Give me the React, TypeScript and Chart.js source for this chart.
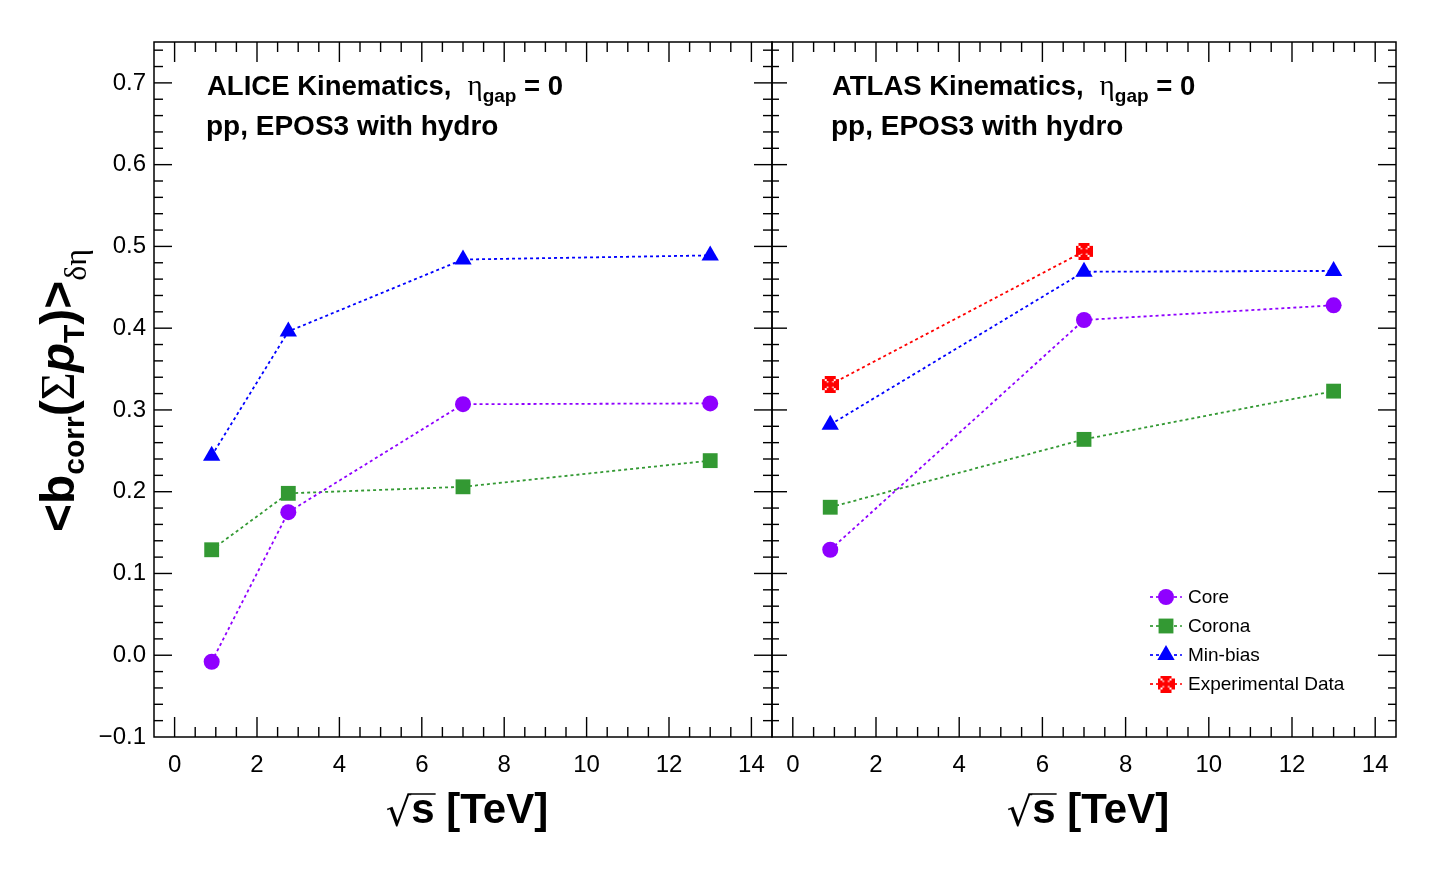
import React, { useEffect, useRef } from 'react';
import { Chart, registerables } from 'chart.js';
import { drawPoint } from 'chart.js/helpers';

Chart.register(...registerables);

// ---------------- data ----------------
const seriesNames = ['Core', 'Corona', 'Min-bias', 'Experimental Data'];

const aliceEnergies = [0.9, 2.76, 7, 13];
const aliceCore = [-0.008, 0.175, 0.307, 0.308];
const aliceCorona = [0.129, 0.198, 0.206, 0.238];
const aliceMinBias = [0.244, 0.396, 0.484, 0.489];

const atlasEnergies = [0.9, 7, 13];
const atlasCore = [0.129, 0.41, 0.428];
const atlasCorona = [0.181, 0.264, 0.323];
const atlasMinBias = [0.282, 0.469, 0.47];
const expEnergies = [0.9, 7];
const atlasExp = [0.331, 0.494];

const xTicks = [0, 2, 4, 6, 8, 10, 12, 14];
const yTicks = [-0.1, 0, 0.1, 0.2, 0.3, 0.4, 0.5, 0.6, 0.7];

const panelTitles = ['ALICE Kinematics,', 'ATLAS Kinematics,'];
const panelSubtitle = 'pp, EPOS3 with hydro';

const COLORS = ['#8f00ff', '#339933', '#0000ff', '#ff0000'];

const SANS = "'Liberation Sans', Arial, Helvetica, sans-serif";
const SERIF = "'Liberation Serif', 'Times New Roman', serif";

// ---------------- helpers ----------------
type Seg = { t: string; font: string; dy?: number; gap?: number };

function drawSegs(ctx: CanvasRenderingContext2D, segs: Seg[], x: number, y: number) {
  for (const s of segs) {
    ctx.font = s.font;
    ctx.fillText(s.t, x, y + (s.dy || 0));
    x += ctx.measureText(s.t).width + (s.gap || 0);
  }
  return x;
}

function makeCross(color: string) {
  const c = document.createElement('canvas');
  c.width = 17;
  c.height = 17;
  const g = c.getContext('2d')!;
  g.fillStyle = color;
  g.fillRect(6.5, 0, 4, 17);
  g.fillRect(0, 6.5, 17, 4);
  g.fillRect(3, 0, 11, 3);
  g.fillRect(3, 14, 11, 3);
  g.fillRect(0, 3, 3, 11);
  g.fillRect(14, 3, 3, 11);
  g.fillRect(5, 3, 7, 2);
  g.fillRect(5, 12, 7, 2);
  g.fillRect(3, 5, 2, 7);
  g.fillRect(12, 5, 2, 7);
  return c;
}

function line(ctx: CanvasRenderingContext2D, x1: number, y1: number, x2: number, y2: number) {
  ctx.beginPath();
  ctx.moveTo(x1, y1);
  ctx.lineTo(x2, y2);
  ctx.stroke();
}

const framePlugin = {
  id: 'rootFrame',
  afterDraw(chart: any, _args: any, opts: any) {
    const { ctx, chartArea: a, scales } = chart;
    const x = scales.x;
    const y = scales.y;
    ctx.save();
    ctx.strokeStyle = '#000';
    ctx.lineWidth = 1.4;
    // x ticks (major every 2, minor every 0.5)
    for (let i = -1; i <= 29; i++) {
      const v = i * 0.5;
      const px = x.getPixelForValue(v);
      if (px < a.left + 0.5 || px > a.right - 0.5) continue;
      const major = i % 4 === 0;
      const len = major ? 20 : 10;
      line(ctx, px, a.bottom, px, a.bottom - len);
      line(ctx, px, a.top, px, a.top + len);
    }
    // y ticks (major every 0.1, minor every 0.02)
    for (let i = -5; i <= 37; i++) {
      const v = i * 0.02;
      const py = y.getPixelForValue(v);
      if (py < a.top + 0.5 || py > a.bottom - 0.5) continue;
      const major = i % 5 === 0;
      const l = major ? opts.left[0] : opts.left[1];
      const r = major ? opts.right[0] : opts.right[1];
      line(ctx, a.left, py, a.left + l, py);
      line(ctx, a.right, py, a.right - r, py);
    }
    ctx.lineWidth = 1.5;
    ctx.strokeRect(a.left, a.top, a.right - a.left, a.bottom - a.top);

    // panel annotations
    ctx.fillStyle = '#000';
    ctx.textBaseline = 'alphabetic';
    ctx.textAlign = 'left';
    const tx = a.left + opts.textDx;
    drawSegs(
      ctx,
      [
        { t: opts.title, font: `bold 27.5px ${SANS}`, gap: 16 },
        { t: 'η', font: `29px ${SERIF}`, gap: 0 },
        { t: 'gap', font: `bold 19px ${SANS}`, dy: 7, gap: 0 },
        { t: ' = 0', font: `bold 27.5px ${SANS}` },
      ],
      tx,
      95
    );
    drawSegs(ctx, [{ t: panelSubtitle, font: `bold 28px ${SANS}` }], tx - 1, 135);

    // x axis title: √s [TeV]
    const cx = (a.left + a.right) / 2;
    const rootFont = `40px 'DejaVu Sans', ${SANS}`;
    const titleFont = `bold 42px ${SANS}`;
    ctx.font = rootFont;
    const rm = ctx.measureText('√');
    const rw = rm.width;
    ctx.font = titleFont;
    const sw = ctx.measureText('s').width;
    const restW = ctx.measureText(' [TeV]').width;
    const total = rw + sw + restW;
    let xx = cx - total / 2 + 4;
    const base = 823;
    ctx.font = rootFont;
    ctx.fillText('√', xx, base + 3);
    const topY = base + 3 - rm.actualBoundingBoxAscent + 1;
    ctx.lineWidth = 1.5;
    line(ctx, xx + rm.actualBoundingBoxRight - 1, topY, xx + rw + sw + 1, topY);
    xx += rw;
    ctx.font = titleFont;
    ctx.fillText('s', xx, base);
    xx += sw;
    ctx.fillText(' [TeV]', xx, base);

    // y axis title
    if (opts.yTitle) {
      ctx.save();
      ctx.translate(74, 532);
      ctx.rotate(-Math.PI / 2);
      drawSegs(
        ctx,
        [
          { t: '<b', font: `bold 48px ${SANS}` },
          { t: 'corr', font: `bold 30px ${SANS}`, dy: 10 },
          { t: '(', font: `bold 48px ${SANS}` },
          { t: 'Σ', font: `48px ${SERIF}` },
          { t: 'p', font: `italic bold 48px ${SANS}` },
          { t: 'T', font: `bold 30px ${SANS}`, dy: 10 },
          { t: ')>', font: `bold 48px ${SANS}` },
          { t: 'δη', font: `32px ${SERIF}`, dy: 12 },
        ],
        0,
        0
      );
      ctx.restore();
    }

    // legend
    if (opts.legend) {
      const ds = chart.data.datasets;
      ctx.font = `19px ${SANS}`;
      ctx.textBaseline = 'middle';
      ds.forEach((d: any, row: number) => {
        const yy = 597 + row * 29;
        const x0 = a.left + 378;
        ctx.strokeStyle = d.borderColor;
        ctx.lineWidth = 1.7;
        ctx.setLineDash([3, 3]);
        line(ctx, x0, yy, x0 + 32, yy);
        ctx.setLineDash([]);
        ctx.fillStyle = d.pointBackgroundColor;
        ctx.strokeStyle = d.pointBackgroundColor;
        drawPoint(ctx, { pointStyle: d.pointStyle, radius: d.pointRadius, rotation: 0, borderWidth: 0 } as any, x0 + 16, yy);
        ctx.fillStyle = '#000';
        ctx.fillText(d.label, x0 + 38, yy + 1);
      });
    }
    ctx.restore();
  },
};

function series(label: string, xs: number[], ys: number[], color: string, style: any, radius: number) {
  return {
    label,
    data: xs.map((x, i) => ({ x, y: ys[i] })),
    borderColor: color,
    backgroundColor: color,
    borderWidth: 1.8,
    borderDash: [3, 3],
    pointStyle: style,
    pointRadius: radius,
    pointHoverRadius: radius,
    pointBackgroundColor: color,
    pointBorderColor: color,
    pointBorderWidth: 0,
    showLine: true,
    tension: 0,
  };
}

function makeOptions(left: boolean, padL: number, padR: number, frameOpts: any) {
  return {
    animation: false,
    responsive: false,
    maintainAspectRatio: false,
    layout: { padding: { left: padL, right: padR, top: 42, bottom: 0 } },
    events: [],
    plugins: {
      legend: { display: false },
      tooltip: { enabled: false },
      rootFrame: frameOpts,
    },
    scales: {
      x: {
        type: 'linear',
        min: -0.5,
        max: 14.5,
        afterBuildTicks: (s: any) => {
          s.ticks = xTicks.map((v) => ({ value: v }));
        },
        afterFit: (s: any) => {
          s.height = 135;
        },
        grid: { display: false },
        border: { display: false },
        ticks: {
          color: '#000',
          font: { family: SANS, size: 24 },
          padding: 6,
          maxRotation: 0,
          autoSkip: false,
          callback: (v: any) => String(v),
        },
      },
      y: {
        type: 'linear',
        display: left,
        min: -0.1,
        max: 0.75,
        afterBuildTicks: (s: any) => {
          s.ticks = yTicks.map((v) => ({ value: v }));
        },
        afterFit: (s: any) => {
          s.width = left ? 154 : 0;
        },
        grid: { display: false },
        border: { display: false },
        ticks: {
          color: '#000',
          font: { family: SANS, size: 24 },
          padding: 0,
          autoSkip: false,
          callback: (v: any) => Number(v).toFixed(1).replace('-', '\u2212'),
        },
      },
    },
  };
}

export default function App() {
  const leftRef = useRef<HTMLCanvasElement>(null);
  const rightRef = useRef<HTMLCanvasElement>(null);

  useEffect(() => {
    const cross = makeCross(COLORS[3]);
    const left = new Chart(leftRef.current!, {
      type: 'line',
      data: {
        datasets: [
          series(seriesNames[0], aliceEnergies, aliceCore, COLORS[0], 'circle', 8),
          series(seriesNames[1], aliceEnergies, aliceCorona, COLORS[1], 'rect', 10.5),
          series(seriesNames[2], aliceEnergies, aliceMinBias, COLORS[2], 'triangle', 10),
        ],
      },
      options: makeOptions(true, 0, 28, {
        left: [18, 9],
        right: [18, 9],
        textDx: 53,
        title: panelTitles[0],
        yTitle: true,
        legend: false,
      }) as any,
      plugins: [framePlugin],
    });
    const right = new Chart(rightRef.current!, {
      type: 'line',
      data: {
        datasets: [
          series(seriesNames[0], atlasEnergies, atlasCore, COLORS[0], 'circle', 8),
          series(seriesNames[1], atlasEnergies, atlasCorona, COLORS[1], 'rect', 10.5),
          series(seriesNames[2], atlasEnergies, atlasMinBias, COLORS[2], 'triangle', 10),
          series(seriesNames[3], expEnergies, atlasExp, COLORS[3], cross, 9),
        ],
      },
      options: makeOptions(false, 28, 55, {
        left: [15, 7],
        right: [18, 8],
        textDx: 60,
        title: panelTitles[1],
        yTitle: false,
        legend: true,
      }) as any,
      plugins: [framePlugin],
    });
    return () => {
      left.destroy();
      right.destroy();
    };
  }, []);

  return (
    <div style={{ position: 'absolute', left: 0, top: 0, width: 1451, height: 872, background: '#fff', overflow: 'hidden' }}>
      <canvas
        ref={leftRef}
        width={800}
        height={872}
        style={{ position: 'absolute', left: 0, top: 0, width: 800, height: 872 }}
      />
      <canvas
        ref={rightRef}
        width={707}
        height={872}
        style={{ position: 'absolute', left: 744, top: 0, width: 707, height: 872 }}
      />
    </div>
  );
}
